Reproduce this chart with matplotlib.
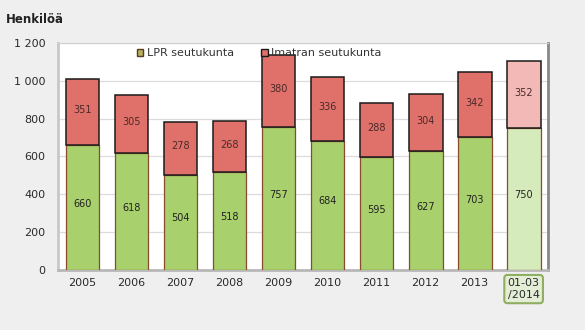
import matplotlib.pyplot as plt
from matplotlib.patches import Patch

years = ['2005', '2006', '2007', '2008', '2009', '2010', '2011', '2012', '2013', '01-03\n/2014']
lpr = [660, 618, 504, 518, 757, 684, 595, 627, 703, 750]
imatra = [351, 305, 278, 268, 380, 336, 288, 304, 342, 352]

green = '#a8d06c'
red = '#e0706a'
green_light = '#d6ebbb'
red_light = '#f3b9b6'

fig = plt.figure(figsize=(5.85, 3.3), dpi=100)
fig.patch.set_facecolor('#efefef')
ax = fig.add_axes([0.099, 0.182, 0.838, 0.688])
ax.set_facecolor('white')

x = list(range(len(years)))
gcols = [green] * 9 + [green_light]
rcols = [red] * 9 + [red_light]

ax.bar(x, lpr, width=0.69, color=gcols, edgecolor='#8a4a2c', linewidth=0.9, zorder=3)
ax.bar(x, imatra, width=0.69, bottom=lpr, color=rcols, edgecolor='#1a1a1a', linewidth=1.1, zorder=3)

for i in x:
    ax.text(i, lpr[i] / 2 + 20, str(lpr[i]), ha='center', va='center', fontsize=7, color='#222222', zorder=4)
    ax.text(i, lpr[i] + imatra[i] / 2 + 10, str(imatra[i]), ha='center', va='center', fontsize=7, color='#4a2a2a', zorder=4)

ax.set_xlim(-0.5, 9.5)
ax.set_ylim(0, 1200)
ax.set_yticks(range(0, 1201, 200))
ax.set_yticklabels(['0', '200', '400', '600', '800', '1 000', '1 200'])
ax.set_xticks(x)
ax.set_xticklabels(years)
ax.tick_params(axis='both', length=0, labelsize=8, colors='#2a2a2a')
ax.tick_params(axis='x', pad=6)
ax.tick_params(axis='y', pad=9)

ax.grid(axis='y', color='#dcdcdc', linewidth=0.9, zorder=0)
ax.spines['top'].set_color('#d0d0d0')
ax.spines['right'].set_color('#888888')
ax.spines['right'].set_linewidth(2)
ax.spines['left'].set_color('#c8c8c8')
ax.spines['left'].set_linewidth(2)
ax.spines['bottom'].set_color('#b8b8b8')
ax.spines['bottom'].set_linewidth(2)

# boxed label for the partial year
last = ax.get_xticklabels()[-1]
last.set_bbox(dict(boxstyle='round,pad=0.3', facecolor='#e4eed6', edgecolor='#8fae62', linewidth=1.5))

handles = [Patch(facecolor='#b8b060', edgecolor='#5a3a20', label='LPR seutukunta'),
           Patch(facecolor=red, edgecolor='#1a1a1a', label='Imatran seutukunta')]
ax.legend(handles=handles, loc='center left', bbox_to_anchor=(0.14, 0.955), ncol=2,
          frameon=False, fontsize=8, handlelength=0.6, handleheight=0.6,
          handletextpad=0.35, columnspacing=2.4, labelcolor='#333333')

fig.text(0.01, 0.93, 'Henkilöä', fontsize=8.5, fontweight='bold', color='#222222')

fig.savefig('out.png', dpi=100, facecolor=fig.get_facecolor())
